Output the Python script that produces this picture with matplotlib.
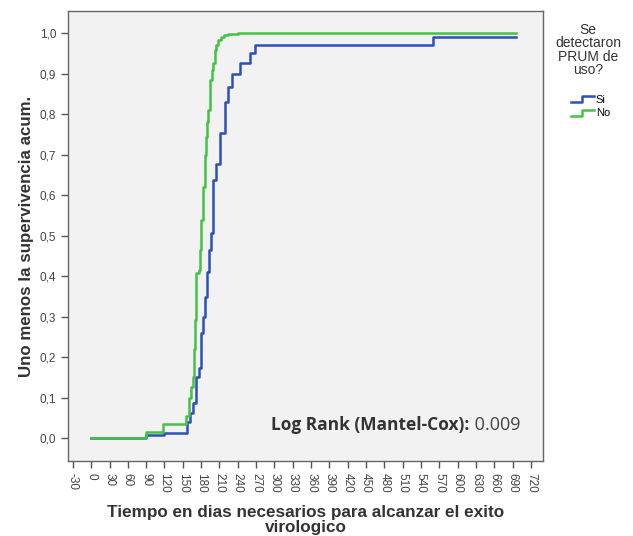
import matplotlib
matplotlib.use('Agg')
import matplotlib.pyplot as plt
from matplotlib.lines import Line2D
from matplotlib.legend_handler import HandlerBase

# Kaplan-Meier (1 - survival) steps
dias_si = [0, 90, 119, 157, 162, 167, 171, 177, 180, 183, 186, 189, 193, 196,
           200, 204, 211, 219, 224, 230, 243, 260, 268, 560, 695]
acum_si = [0, 0.008, 0.012, 0.04, 0.062, 0.087, 0.152, 0.174, 0.26, 0.30, 0.35,
           0.41, 0.465, 0.507, 0.638, 0.677, 0.753, 0.831, 0.868, 0.90, 0.927,
           0.951, 0.971, 0.99, 0.99]

dias_no = [0, 90, 118, 156, 160, 164, 166, 168, 170, 172, 177, 178, 180, 183,
           186, 188, 190, 192, 195, 198, 200, 203, 205, 208, 213, 218, 224, 240, 695]
acum_no = [0, 0.016, 0.035, 0.055, 0.10, 0.127, 0.152, 0.22, 0.292, 0.407, 0.415,
           0.465, 0.54, 0.62, 0.70, 0.745, 0.78, 0.81, 0.885, 0.91, 0.926, 0.959,
           0.97, 0.983, 0.992, 0.995, 0.998, 1.0, 1.0]

grupos = ['Si', 'No']
colores = ['#2b50b8', '#45c245']
x_ticks = list(range(-30, 721, 30))
y_ticks = [i / 10 for i in range(11)]

plt.rcParams['font.family'] = ['Liberation Sans', 'DejaVu Sans']


class StepHandler(HandlerBase):
    # small step icon like the SPSS legend
    def create_artists(self, legend, orig_handle, xdescent, ydescent,
                       width, height, fontsize, trans):
        w, h = width, height
        xs = [0, 0.5 * w, 0.5 * w, w]
        ys = [0.1 * h, 0.1 * h, 0.8 * h, 0.8 * h]
        ln = Line2D(xs, ys, color=orig_handle.get_color(), lw=1.8, transform=trans)
        return [ln]


fig = plt.figure(figsize=(6.33, 5.36), dpi=100)
ax = fig.add_axes([0.1074, 0.14, 0.7506, 0.8395])
ax.set_facecolor('#f2f2f2')

h_si, = ax.step(dias_si, acum_si, where='post', color=colores[0], lw=1.8)
h_no, = ax.step(dias_no, acum_no, where='post', color=colores[1], lw=1.8)

ax.set_xlim(-38, 740)
ax.set_ylim(-0.056, 1.055)
ax.set_xticks(x_ticks)
ax.set_xticklabels([str(t) for t in x_ticks], rotation=-90, fontsize=8.5, color='#444444')
ax.set_yticks(y_ticks)
ax.set_yticklabels([f'{t:.1f}'.replace('.', ',') for t in y_ticks], fontsize=8.5, color='#444444')
ax.tick_params(direction='out', length=5, width=1, color='#555555')
for s in ax.spines.values():
    s.set_color('#666666')
    s.set_linewidth(1)

ax.set_ylabel('Uno menos la supervivencia acum.', fontsize=12.2, fontweight='bold',
              color='#333333', labelpad=4)
ax.set_xlabel('Tiempo en dias necesarios para alcanzar el exito\nvirologico',
              fontsize=12.3, fontweight='bold', color='#333333', labelpad=9,
              linespacing=0.95)

t1 = ax.text(0.428, 0.08, 'Log Rank (Mantel-Cox):', transform=ax.transAxes,
             fontsize=12.5, fontweight='bold', family='Open Sans', color='#333333',
             va='center', ha='left')
ax.annotate(' 0.009', xy=(1, 0.5), xycoords=t1, va='center', ha='left',
            fontsize=13, family='Open Sans', color='#444444')

fig.text(0.929, 0.957, 'Se\ndetectaron\nPRUM de\nuso?', ha='center', va='top',
         fontsize=10, color='#333333', linespacing=0.93, multialignment='center')
leg = fig.legend([h_si, h_no], grupos,
                 handler_map={h_si: StepHandler(), h_no: StepHandler()},
                 loc='upper left', bbox_to_anchor=(0.893, 0.834), frameon=False,
                 fontsize=8, handlelength=2.1, handletextpad=0.15,
                 labelspacing=0.35, borderpad=0)

fig.savefig('out.png', dpi=100)
